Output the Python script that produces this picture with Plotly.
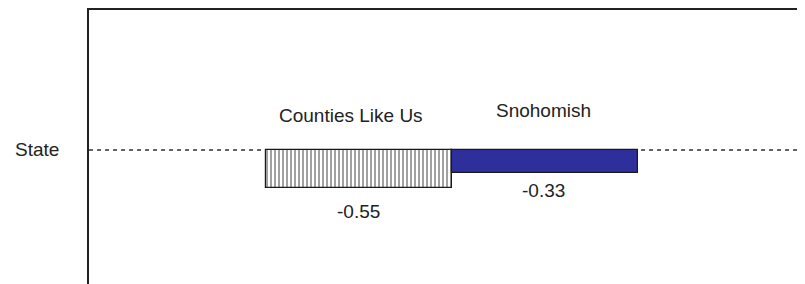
import plotly.graph_objects as go

categories = ["Counties Like Us", "Snohomish"]
values = [-0.55, -0.33]
baseline_label = "State"

FONT = "Liberation Sans, Arial, sans-serif"
FS = 19

fig = go.Figure()

fig.add_trace(go.Bar(
    x=categories, y=values, width=1,
    marker=dict(
        color=["#ffffff", "#2f2f9c"],
        line=dict(color="#1a1a1a", width=1.2),
        pattern=dict(shape=["|", ""], fgcolor="#7a7a7a", bgcolor="#ffffff",
                     size=4, solidity=0.5),
    ),
    hoverinfo="skip",
))

# dashed baseline (state level)
fig.add_shape(type="line", xref="paper", x0=0, x1=1, yref="y", y0=0, y1=0,
              line=dict(color="#333333", width=1.3, dash="4px,4px"), layer="below")

# labels
name_shift = [(-8, 34), (-1, 39)]
val_shift = [(0, -23), (-1, -17)]
for i, (c, v) in enumerate(zip(categories, values)):
    fig.add_annotation(x=c, y=0, text=c, showarrow=False,
                       xshift=name_shift[i][0], yshift=name_shift[i][1],
                       font=dict(family=FONT, size=FS, color="#222222"))
    fig.add_annotation(x=c, y=v, text=f"{v:.2f}", showarrow=False,
                       xshift=val_shift[i][0], yshift=val_shift[i][1],
                       font=dict(family=FONT, size=FS, color="#222222"))

fig.add_annotation(xref="paper", x=0, y=0, text=baseline_label, showarrow=False,
                   xanchor="right", xshift=-28,
                   font=dict(family=FONT, size=FS, color="#222222"))

fig.update_layout(
    width=805, height=284,
    margin=dict(l=81, r=0, t=2, b=0),
    paper_bgcolor="white", plot_bgcolor="white",
    showlegend=False,
    bargap=0,
    xaxis=dict(type="category", range=[-1.449, 2.441], side="top",
               showline=True, linecolor="#222222", linewidth=1.5,
               showticklabels=False, ticks="", showgrid=False, zeroline=False),
    yaxis=dict(range=[-2.029, 2.0], showline=True, linecolor="#222222",
               linewidth=1.5, showticklabels=False, ticks="",
               showgrid=False, zeroline=False),
)

fig.write_html("out.html")
